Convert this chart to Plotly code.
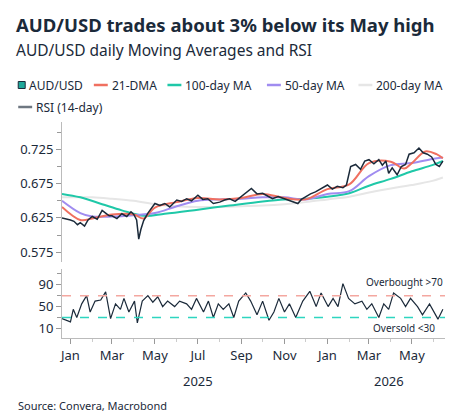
import plotly.graph_objects as go
import pandas as pd

base = pd.Timestamp("2025-01-01")

# AUD/USD spot (days from 1 Jan 2025, value)
spot_day = [-12, -6, 0, 5, 10, 14, 20, 25, 31, 38, 45, 50, 55, 59, 66, 73, 80, 86, 90, 94, 97, 100, 104, 110, 114,
            120, 127, 134, 141, 151, 158, 165, 172, 181, 188, 195, 203, 212, 219, 226, 234, 243, 250, 257, 265,
            273, 280, 287, 295, 304, 313, 323, 328, 334, 341, 348, 356, 365, 372, 379, 387, 392, 398, 405, 412,
            418, 424, 431, 438, 443, 448, 452, 457, 464, 470, 476, 481, 488, 495, 501, 507, 513, 519, 524, 529]
spot_val = [0.625, 0.624, 0.622, 0.620, 0.615, 0.618, 0.613, 0.622, 0.627, 0.623, 0.636, 0.632, 0.628, 0.628, 0.624,
            0.631, 0.627, 0.634, 0.630, 0.622, 0.594, 0.608, 0.621, 0.632, 0.638, 0.646, 0.643, 0.646, 0.641,
            0.651, 0.649, 0.653, 0.650, 0.658, 0.652, 0.653, 0.646, 0.648, 0.651, 0.653, 0.649, 0.656, 0.662,
            0.668, 0.660, 0.661, 0.657, 0.653, 0.656, 0.653, 0.650, 0.646, 0.652, 0.656, 0.660, 0.663, 0.668,
            0.673, 0.667, 0.671, 0.669, 0.673, 0.700, 0.703, 0.696, 0.708, 0.710, 0.704, 0.710, 0.702, 0.708,
            0.690, 0.698, 0.688, 0.700, 0.703, 0.718, 0.720, 0.727, 0.720, 0.718, 0.714, 0.703, 0.700, 0.708]

dma21_day = [-12, 14, 31, 59, 90, 104, 120, 151, 181, 212, 243, 273, 304, 334, 365, 396, 424, 455, 474, 485, 504, 520, 529]
dma21_val = [0.641, 0.622, 0.624, 0.630, 0.630, 0.624, 0.640, 0.648, 0.654, 0.652, 0.654, 0.660, 0.654, 0.652,
             0.667, 0.674, 0.705, 0.707, 0.697, 0.705, 0.722, 0.718, 0.712]

ma50_day = [-12, 14, 31, 59, 90, 120, 151, 181, 212, 243, 273, 304, 334, 365, 396, 424, 455, 485, 514, 529]
ma50_val = [0.650, 0.632, 0.627, 0.627, 0.629, 0.632, 0.642, 0.650, 0.652, 0.653, 0.655, 0.655, 0.652, 0.660,
            0.664, 0.686, 0.702, 0.705, 0.711, 0.713]

ma100_day = [-12, 14, 45, 73, 104, 134, 181, 226, 273, 304, 334, 365, 396, 424, 455, 485, 514, 529]
ma100_val = [0.660, 0.655, 0.645, 0.636, 0.628, 0.631, 0.637, 0.643, 0.649, 0.652, 0.653, 0.656, 0.661, 0.672,
             0.682, 0.693, 0.702, 0.708]

ma200_day = [-12, 31, 59, 90, 120, 151, 181, 212, 243, 273, 304, 334, 365, 396, 424, 455, 485, 514, 529]
ma200_val = [0.655, 0.655, 0.653, 0.650, 0.645, 0.642, 0.641, 0.641, 0.642, 0.643, 0.645, 0.648, 0.652, 0.656,
             0.662, 0.668, 0.673, 0.679, 0.684]

rsi_day = [-12, 0, 4, 9, 16, 23, 28, 35, 43, 50, 57, 64, 71, 76, 83, 91, 95, 102, 110, 117, 124, 131, 138, 148,
           155, 165, 172, 179, 189, 196, 203, 210, 217, 225, 232, 239, 249, 256, 265, 273, 282, 289, 296, 304,
           311, 320, 330, 340, 349, 356, 366, 373, 380, 387, 395, 404, 414, 421, 428, 438, 445, 452, 459, 469,
           476, 483, 493, 500, 510, 517, 522, 529]
rsi_val = [28, 22, 45, 30, 55, 70, 40, 60, 62, 77, 28, 55, 45, 65, 40, 60, 20, 60, 70, 58, 68, 50, 60, 50,
           60, 55, 45, 65, 40, 60, 30, 55, 45, 55, 30, 60, 75, 60, 35, 60, 25, 40, 65, 40,
           55, 30, 60, 78, 50, 75, 50, 65, 50, 92, 65, 55, 60, 45, 55, 30, 55, 45, 75, 65,
           50, 65, 50, 35, 55, 40, 27, 45]


def dates(days):
    return [base + pd.Timedelta(days=d) for d in days]


NAVY = "#1b2a3a"
L, T, PW, PH = 52, 114, 385, 216  # plot area in px


def px(x):
    return (x - L) / PW


def py(y):
    return (T + PH - y) / PH


series = [
    ("200-day MA", ma200_day, ma200_val, "#e6e6e6", 2, "y"),
    ("100-day MA", ma100_day, ma100_val, "#1fc8a8", 2, "y"),
    ("50-day MA", ma50_day, ma50_val, "#a08cf0", 2, "y"),
    ("21-DMA", dma21_day, dma21_val, "#f07060", 2, "y"),
    ("AUD/USD", spot_day, spot_val, NAVY, 1.5, "y"),
    ("RSI (14-day)", rsi_day, rsi_val, NAVY, 1.2, "y2"),
]
fig = go.Figure()
for name, d, v, c, w, ax in series:
    fig.add_trace(go.Scatter(x=dates(d), y=v, name=name, mode="lines", yaxis=ax,
                             line=dict(color=c, width=w, shape="linear" if c == NAVY else "spline")))

xr = [base + pd.Timedelta(days=-12), base + pd.Timedelta(days=532)]
fig.add_shape(type="line", xref="x", yref="y2", x0=xr[0], x1=xr[1], y0=70, y1=70,
              line=dict(color="#f4a7a0", width=1.5, dash="dash"))
fig.add_shape(type="line", xref="x", yref="y2", x0=xr[0], x1=xr[1], y0=30, y1=30,
              line=dict(color="#2ed5c0", width=1.5, dash="dash"))

# hand-placed legend (two rows like the original)
legend_items = [
    (8, 77, "AUD/USD", None), (84, 77, "21-DMA", "#f07060"), (158, 77, "100-day MA", "#1fc8a8"),
    (258, 77, "50-day MA", "#a08cf0"), (350, 77, "200-day MA", "#e6e6e6"), (8, 99, "RSI (14-day)", "#6e7781"),
]
for x0, y0, label, col in legend_items:
    if col is None:
        fig.add_shape(type="rect", xref="paper", yref="paper", x0=px(x0), x1=px(x0 + 7),
                      y0=py(y0 + 3.5), y1=py(y0 - 3.5), fillcolor="#1fa89a",
                      line=dict(color=NAVY, width=1))
        tx = x0 + 9
    else:
        fig.add_shape(type="line", xref="paper", yref="paper", x0=px(x0), x1=px(x0 + 14),
                      y0=py(y0), y1=py(y0), line=dict(color=col, width=2.5))
        tx = x0 + 16
    fig.add_annotation(x=px(tx), xref="paper", y=py(y0), yref="paper", text=label, showarrow=False,
                       xanchor="left", yanchor="middle", font=dict(size=12, color=NAVY))

fig.add_annotation(x=1, xref="paper", y=112, yref="y2", text="Overbought >70", showarrow=False,
                   xanchor="right", yanchor="top", font=dict(size=10, color=NAVY))
fig.add_annotation(x=0.98, xref="paper", y=-5, yref="y2", text="Oversold <30", showarrow=False,
                   xanchor="right", yanchor="bottom", font=dict(size=10, color=NAVY))
for yr, d in [("2025", 181), ("2026", 452)]:
    fig.add_annotation(x=base + pd.Timedelta(days=d), xref="x", y=py(362), yref="paper", text=yr,
                       showarrow=False, yanchor="top", font=dict(size=13, color=NAVY))
fig.add_annotation(x=px(6), xref="paper", y=py(388), yref="paper", text="Source: Convera, Macrobond",
                   showarrow=False, xanchor="left", yanchor="top", font=dict(size=11, color=NAVY))
fig.add_annotation(x=px(4), xref="paper", y=py(2), yref="paper",
                   text="<b>AUD/USD trades about 3% below its May high</b>",
                   showarrow=False, xanchor="left", yanchor="top", font=dict(size=18.5, color=NAVY))
fig.add_annotation(x=px(4), xref="paper", y=py(29), yref="paper",
                   text="AUD/USD daily Moving Averages and RSI",
                   showarrow=False, xanchor="left", yanchor="top", font=dict(size=15.5, color=NAVY))

fig.update_layout(
    width=455, height=417,
    margin=dict(l=L, r=18, t=T, b=417 - T - PH),
    paper_bgcolor="white", plot_bgcolor="white",
    font=dict(family="Noto Sans, Open Sans", color=NAVY, size=12),
    showlegend=False,
    xaxis=dict(range=xr, anchor="y2", dtick="M2", tick0="2025-01-01", tickformat="%b",
               showgrid=False, ticks="outside", ticklen=5, tickcolor="#999", showline=True,
               linecolor="#bbb", tickfont=dict(size=13),
               minor=dict(dtick="M1", ticks="outside", ticklen=3, tickcolor="#ccc")),
    yaxis=dict(domain=[0.35, 1], range=[0.56, 0.765], dtick=0.05, tick0=0.575, tickformat=".3f",
               showgrid=False, zeroline=False, ticks="outside", ticklen=5, tickcolor="#999",
               showline=True, linecolor="#bbb",
               minor=dict(dtick=0.025, ticks="outside", ticklen=4, tickcolor="#999"),
               tickfont=dict(size=13)),
    yaxis2=dict(domain=[0, 0.32], range=[-7.5, 119], tickvals=[10, 50, 90], showgrid=False, zeroline=False,
                ticks="outside", ticklen=5, tickcolor="#999", showline=True, linecolor="#bbb",
                minor=dict(dtick=20, tick0=10, ticks="outside", ticklen=4, tickcolor="#999"),
                tickfont=dict(size=13)),
)

fig.write_html("out.html")
